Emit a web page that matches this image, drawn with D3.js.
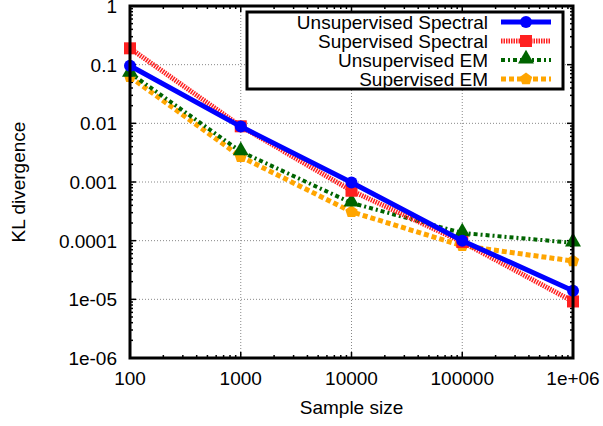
<!DOCTYPE html>
<html>
<head>
<meta charset="utf-8">
<style>
  body { margin: 0; background: #fff; }
  svg { position: absolute; top: 0; left: 0; font-family: "Liberation Sans", Arial, sans-serif; }
  .grid line { stroke: #888; stroke-width: 1; stroke-dasharray: 1,2; }
  .tick-label { font-size: 19px; fill: #000; }
</style>
<script src="https://cdnjs.cloudflare.com/ajax/libs/d3/7.8.5/d3.min.js"></script>
</head>
<body>
<svg width="603" height="426"></svg>
<script>
// sample sizes on x
var sizes = [100, 1000, 10000, 100000, 1000000];
var xTickLabels = ["100", "1000", "10000", "100000", "1e+06"];
var yTicks = [1, 0.1, 0.01, 0.001, 0.0001, 0.00001, 0.000001];
var yTickLabels = ["1", "0.1", "0.01", "0.001", "0.0001", "1e-05", "1e-06"];

// KL divergence
var unsupSpectral = [0.096, 0.0088, 0.00098, 0.0001, 0.000014];
var supSpectral   = [0.19, 0.0089, 0.00071, 0.000095, 0.0000092];
var unsupEM       = [0.072, 0.0033, 0.00044, 0.000135, 0.000092];
var supEM         = [0.062, 0.0027, 0.00031, 0.000082, 0.000045];

var seriesNames = ["Unsupervised Spectral", "Supervised Spectral", "Unsupervised EM", "Supervised EM"];

var series = [
  {name: seriesNames[0], values: unsupSpectral, color: "#0000ff", width: 5, dash: null, marker: "circle"},
  {name: seriesNames[1], values: supSpectral, color: "#ff2020", width: 5, dash: "1.5,1", marker: "square"},
  {name: seriesNames[2], values: unsupEM, color: "#006400", width: 4, dash: "4,3,2,3", marker: "triangle"},
  {name: seriesNames[3], values: supEM, color: "#ffa500", width: 5, dash: "5,3", marker: "pentagon"}
];

var svg = d3.select("svg");
var pL = 130, pR = 573, pT = 6, pB = 358;

var x = d3.scaleLog().domain([100, 1000000]).range([pL, pR]);
var y = d3.scaleLog().domain([0.000001, 1]).range([pB, pT]);

// grid
var grid = svg.append("g").attr("class", "grid");
grid.selectAll(".gx").data(sizes.slice(1, -1)).enter().append("line")
  .attr("x1", d => x(d)).attr("x2", d => x(d))
  .attr("y1", pT).attr("y2", pB);
grid.selectAll(".gy").data(yTicks.slice(1, -1)).enter().append("line")
  .attr("x1", pL).attr("x2", pR)
  .attr("y1", d => y(d)).attr("y2", d => y(d));

// minor + major ticks, inward on all four sides
var ticks = svg.append("g").attr("stroke", "#000").attr("stroke-width", 1.5);
var xMinor = [], yMinor = [];
for (var e = 2; e < 6; e++) for (var m = 2; m < 10; m++) xMinor.push(m * Math.pow(10, e));
for (var e2 = -6; e2 < 0; e2++) for (var m2 = 2; m2 < 10; m2++) yMinor.push(m2 * Math.pow(10, e2));

xMinor.forEach(function(d) {
  ticks.append("line").attr("x1", x(d)).attr("x2", x(d)).attr("y1", pB).attr("y2", pB - 3);
  ticks.append("line").attr("x1", x(d)).attr("x2", x(d)).attr("y1", pT).attr("y2", pT + 3);
});
sizes.forEach(function(d) {
  ticks.append("line").attr("x1", x(d)).attr("x2", x(d)).attr("y1", pB).attr("y2", pB - 6);
  ticks.append("line").attr("x1", x(d)).attr("x2", x(d)).attr("y1", pT).attr("y2", pT + 6);
});
yMinor.forEach(function(d) {
  ticks.append("line").attr("x1", pL).attr("x2", pL + 3).attr("y1", y(d)).attr("y2", y(d));
  ticks.append("line").attr("x1", pR).attr("x2", pR - 3).attr("y1", y(d)).attr("y2", y(d));
});
yTicks.forEach(function(d) {
  ticks.append("line").attr("x1", pL).attr("x2", pL + 6).attr("y1", y(d)).attr("y2", y(d));
  ticks.append("line").attr("x1", pR).attr("x2", pR - 6).attr("y1", y(d)).attr("y2", y(d));
});

// tick labels
svg.selectAll(".xl").data(sizes).enter().append("text")
  .attr("class", "tick-label")
  .attr("x", d => x(d)).attr("y", pB + 27)
  .attr("text-anchor", "middle")
  .text((d, i) => xTickLabels[i]);
svg.selectAll(".yl").data(yTicks).enter().append("text")
  .attr("class", "tick-label")
  .attr("x", pL - 13).attr("y", d => y(d) + 7)
  .attr("text-anchor", "end")
  .text((d, i) => yTickLabels[i]);

// axis titles
svg.append("text").attr("class", "tick-label")
  .attr("x", (pL + pR) / 2).attr("y", 414)
  .attr("text-anchor", "middle").text("Sample size");
svg.append("text").attr("class", "tick-label")
  .attr("transform", "translate(25," + (pT + pB) / 2 + ") rotate(-90)")
  .attr("text-anchor", "middle").text("KL divergence");

function drawMarker(g, type, cx, cy, color) {
  if (type === "circle") {
    g.append("circle").attr("cx", cx).attr("cy", cy).attr("r", 6).attr("fill", color);
  } else if (type === "square") {
    g.append("rect").attr("x", cx - 6).attr("y", cy - 6).attr("width", 12).attr("height", 12).attr("fill", color);
  } else if (type === "triangle") {
    g.append("path").attr("d", d3.symbol().type(d3.symbolTriangle).size(110)()).attr("transform", "translate(" + cx + "," + (cy - 1) + ")").attr("fill", color);
  } else {
    var pts = d3.range(5).map(function(k) {
      var a = -Math.PI / 2 + k * 2 * Math.PI / 5;
      return [cx + 6.5 * Math.cos(a), cy + 6.5 * Math.sin(a)];
    });
    g.append("path").attr("d", "M" + pts.join("L") + "Z").attr("fill", color);
  }
}

var line = d3.line().x(d => x(d[0])).y(d => y(d[1]));

// draw in reverse so blue sits on top
series.slice().reverse().forEach(function(s) {
  var g = svg.append("g");
  var pts = s.values.map((v, i) => [sizes[i], v]);
  g.append("path").attr("d", line(pts))
    .attr("fill", "none").attr("stroke", s.color).attr("stroke-width", s.width)
    .attr("stroke-dasharray", s.dash);
  pts.forEach(function(p) { drawMarker(g, s.marker, x(p[0]), y(p[1]), s.color); });
});

// legend
var lg = svg.append("g");
lg.append("rect").attr("x", 247).attr("y", 12).attr("width", 316).attr("height", 77)
  .attr("fill", "#fff").attr("stroke", "#000").attr("stroke-width", 3);
series.forEach(function(s, i) {
  var ly = 22 + i * 19;
  lg.append("text").attr("class", "tick-label").attr("x", 488).attr("y", ly + 7)
    .attr("text-anchor", "end").text(s.name);
  lg.append("line").attr("x1", 501).attr("x2", 551).attr("y1", ly).attr("y2", ly)
    .attr("stroke", s.color).attr("stroke-width", s.width).attr("stroke-dasharray", s.dash);
  drawMarker(lg, s.marker, 526, ly, s.color);
});

// border
svg.append("rect").attr("x", pL).attr("y", pT).attr("width", pR - pL).attr("height", pB - pT)
  .attr("fill", "none").attr("stroke", "#000").attr("stroke-width", 3);
</script>
</body>
</html>
